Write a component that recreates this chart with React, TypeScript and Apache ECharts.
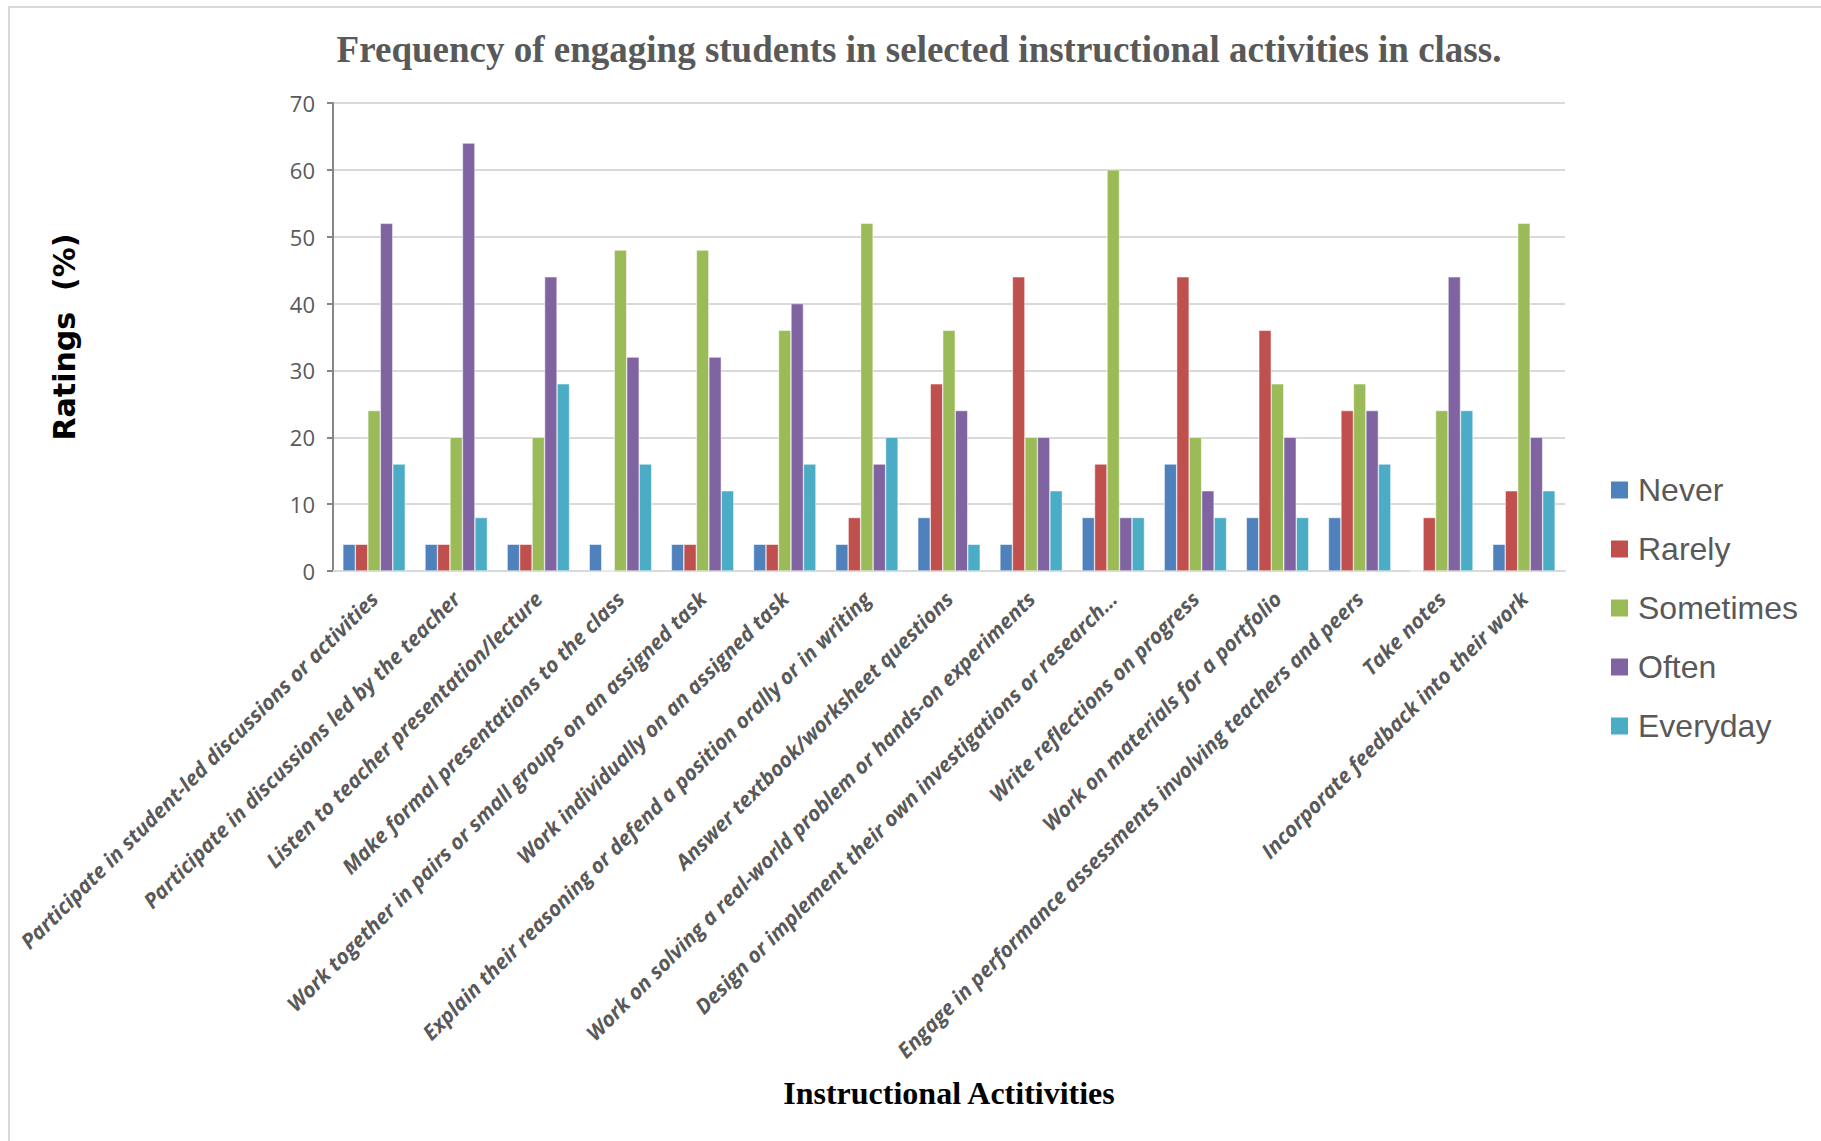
import React, { useEffect, useRef } from "react";
import * as echarts from "echarts";

const categories = [
  "Participate in student-led discussions or activities",
  "Participate in discussions led by the teacher",
  "Listen to teacher presentation/lecture",
  "Make formal presentations to the class",
  "Work together in pairs or small groups on an assigned task",
  "Work individually on an assigned task",
  "Explain their reasoning or defend a position orally or in writing",
  "Answer textbook/worksheet questions",
  "Work on solving a real-world problem or hands-on experiments",
  "Design or implement their own investigations or research…",
  "Write reflections on progress",
  "Work on materials for a portfolio",
  "Engage in performance assessments involving teachers and peers",
  "Take notes",
  "Incorporate feedback into their work",
];

const never = [4, 4, 4, 4, 4, 4, 4, 8, 4, 8, 16, 8, 8, 0, 4];
const rarely = [4, 4, 4, 0, 4, 4, 8, 28, 44, 16, 44, 36, 24, 8, 12];
const sometimes = [24, 20, 20, 48, 48, 36, 52, 36, 20, 60, 20, 28, 28, 24, 52];
const often = [52, 64, 44, 32, 32, 40, 16, 24, 20, 8, 12, 20, 24, 44, 20];
const everyday = [16, 8, 28, 16, 12, 16, 20, 4, 12, 8, 8, 8, 16, 24, 12];

const seriesNames = ["Never", "Rarely", "Sometimes", "Often", "Everyday"];
const seriesData = [never, rarely, sometimes, often, everyday];
const seriesColors = ["#4F81BD", "#C0504D", "#9BBB59", "#8064A2", "#4BACC6"];

export default function App() {
  const ref = useRef<HTMLDivElement>(null);
  useEffect(() => {
    if (!ref.current) return;
    const chart = echarts.init(ref.current, undefined, { renderer: "svg" });
    chart.setOption({
      animation: false,
      backgroundColor: "#ffffff",
      title: {
        text: "Frequency of engaging students in selected instructional activities in class.",
        left: 914,
        top: 26,
        textAlign: "center",
        textStyle: {
          fontFamily: "Liberation Serif",
          fontWeight: "bold",
          fontSize: 37,
          color: "#595959",
        },
      },
      legend: {
        orient: "vertical",
        left: 1604,
        top: 469,
        itemWidth: 19,
        itemHeight: 19,
        itemGap: 27,
        icon: "rect",
        textStyle: {
          fontFamily: "Liberation Sans",
          fontSize: 32,
          lineHeight: 32,
          color: "#595959",
          padding: [0, 0, 0, 4],
        },
        data: seriesNames,
      },
      grid: {
        left: 333,
        right: 256,
        top: 103,
        bottom: 570,
        containLabel: false,
      },
      xAxis: {
        type: "category",
        data: categories,
        name: "Instructional Actitivities",
        nameLocation: "middle",
        nameGap: 506,
        nameTextStyle: {
          fontFamily: "Liberation Serif",
          fontWeight: "bold",
          fontSize: 32,
          color: "#000000",
        },
        axisLine: { show: true, lineStyle: { color: "#D9D9D9", width: 2 } },
        axisTick: { show: false },
        axisLabel: {
          interval: 0,
          rotate: 45,
          margin: 24,
          fontFamily: "Open Sans",
          fontStyle: "italic",
          fontWeight: "bold",
          fontSize: 21,
          color: "#595959",
        },
      },
      yAxis: {
        type: "value",
        min: 0,
        max: 70,
        interval: 10,
        name: "Ratings  (%)",
        nameLocation: "middle",
        nameRotate: 90,
        nameGap: 254,
        nameTextStyle: {
          fontFamily: "DejaVu Sans",
          fontWeight: "bold",
          fontSize: 30,
          color: "#000000",
        },
        axisLine: { show: true, lineStyle: { color: "#868686", width: 2 } },
        axisTick: { show: true, length: 6, lineStyle: { color: "#868686", width: 2 } },
        axisLabel: {
          margin: 18,
          fontFamily: "Open Sans",
          fontSize: 22,
          color: "#595959",
        },
        splitLine: { show: true, lineStyle: { color: "#D9D9D9", width: 2 } },
      },
      graphic: [
        {
          type: "rect",
          shape: { x: 9, y: 7, width: 1900, height: 1300 },
          style: { fill: "none", stroke: "#D9D9D9", lineWidth: 2 },
          silent: true,
        },
      ],
      series: seriesNames.map((name, i) => ({
        name,
        type: "bar",
        data: seriesData[i],
        barGap: "0%",
        barCategoryGap: "24%",
        itemStyle: {
          color: seriesColors[i],
          borderColor: "#ffffff",
          borderWidth: 0.5,
        },
      })),
    });
    return () => chart.dispose();
  }, []);
  return (
    <div
      ref={ref}
      style={{ position: "absolute", left: 0, top: 0, width: 1821, height: 1141 }}
    />
  );
}
